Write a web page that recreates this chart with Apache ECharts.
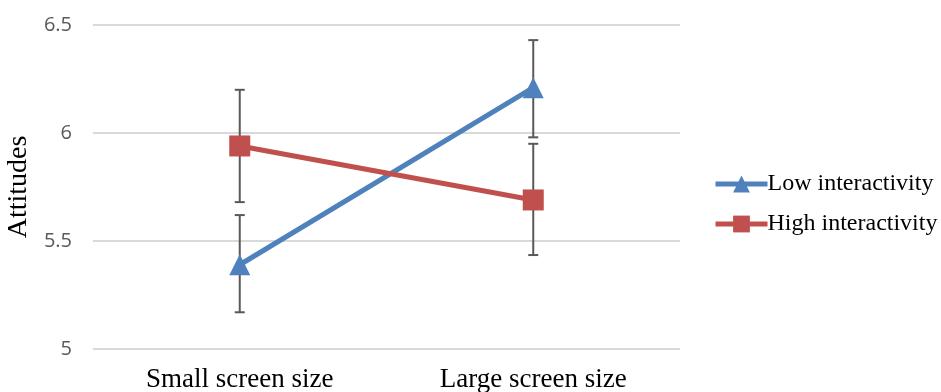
<!DOCTYPE html>
<html><head><meta charset="utf-8">
<script src="https://cdn.jsdelivr.net/npm/echarts@6/dist/echarts.min.js"></script>
<style>html,body{margin:0;padding:0;background:#fff}#c{width:941px;height:392px}</style>
</head><body><div id="c"></div>
<script>
const categories = ['Small screen size', 'Large screen size'];
const lowValues = [5.39, 6.21];
const lowLower = [5.17, 5.98];
const lowUpper = [5.62, 6.43];
const highValues = [5.94, 5.69];
const highLower = [5.68, 5.435];
const highUpper = [6.20, 5.95];
const yTicks = [5, 5.5, 6, 6.5];

const chart = echarts.init(document.getElementById('c'));
function errData(lo, hi) { return categories.map((c, i) => [i, lo[i], hi[i]]); }
function errRender(params, api) {
  const x = api.value(0);
  const lo = api.coord([x, api.value(1)]);
  const hi = api.coord([x, api.value(2)]);
  const w = 5;
  const st = { stroke: '#595959', lineWidth: 2 };
  return { type: 'group', children: [
    { type: 'line', shape: { x1: lo[0], y1: lo[1], x2: hi[0], y2: hi[1] }, style: st },
    { type: 'line', shape: { x1: lo[0] - w, y1: lo[1], x2: lo[0] + w, y2: lo[1] }, style: st },
    { type: 'line', shape: { x1: hi[0] - w, y1: hi[1], x2: hi[0] + w, y2: hi[1] }, style: st }
  ]};
}
chart.setOption({
  animation: false,
  grid: { left: 93, right: 261, top: 25, bottom: 43, containLabel: false, outerBoundsMode: 'none' },
  legend: {
    data: ['Low interactivity', 'High interactivity'],
    orient: 'vertical', left: 708, top: 167, itemWidth: 52, itemHeight: 21, itemGap: 16,
    lineStyle: { width: 5 },
    textStyle: { fontFamily: 'Liberation Serif', fontSize: 24, color: '#000', padding: [0, 0, 0, -5] }
  },
  xAxis: {
    type: 'category', data: categories, boundaryGap: true,
    axisLine: { show: false }, axisTick: { show: false },
    axisLabel: { fontFamily: 'Liberation Serif', fontSize: 27, color: '#000', margin: 17 }
  },
  yAxis: {
    type: 'value', min: yTicks[0], max: yTicks[yTicks.length - 1], interval: 0.5,
    name: 'Attitudes', nameLocation: 'middle', nameGap: 56, nameRotate: 90,
    nameTextStyle: { fontFamily: 'Liberation Serif', fontSize: 28, color: '#000' },
    axisLine: { show: false }, axisTick: { show: false },
    axisLabel: { fontFamily: 'Open Sans', fontSize: 20, color: '#595959', margin: 21 },
    splitLine: { lineStyle: { color: '#d9d9d9', width: 2 } }
  },
  series: [
    { type: 'custom', renderItem: errRender, data: errData(lowLower, lowUpper), z: 1, silent: true },
    { type: 'custom', renderItem: errRender, data: errData(highLower, highUpper), z: 1, silent: true },
    { name: 'Low interactivity', type: 'line', data: lowValues, symbol: 'triangle', symbolSize: 21,
      lineStyle: { color: '#4F81BD', width: 5 }, itemStyle: { color: '#4F81BD' }, z: 3 },
    { name: 'High interactivity', type: 'line', data: highValues, symbol: 'rect', symbolSize: 21,
      lineStyle: { color: '#C0504D', width: 5 }, itemStyle: { color: '#C0504D' }, z: 3 }
  ]
});
</script></body></html>
